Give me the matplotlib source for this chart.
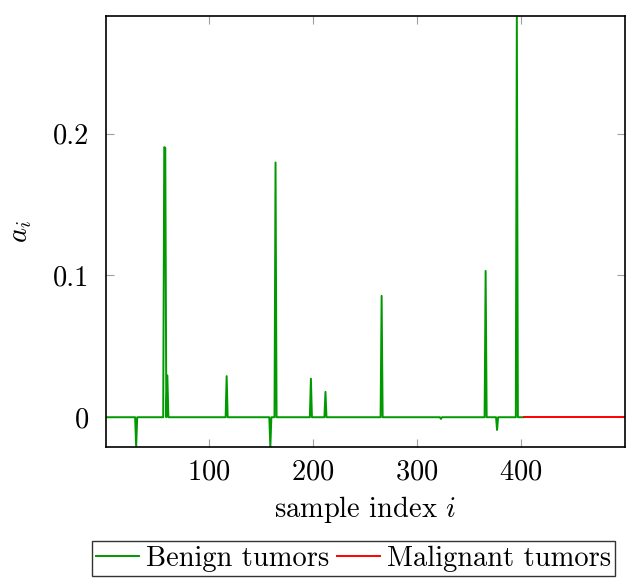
import matplotlib
matplotlib.use("Agg")
import matplotlib.pyplot as plt
import numpy as np

plt.rcParams['font.family'] = 'cmr10'
plt.rcParams['mathtext.fontset'] = 'cm'
plt.rcParams['axes.formatter.use_mathtext'] = True

# coefficient a_i per sample: zero except for a handful of support samples
n_benign = 402
n_total = 500
spike_idx = [30, 57, 58, 60, 117, 159, 164, 198, 212, 266, 323, 366, 377, 396]
spike_val = [-0.021, 0.1905, 0.19, 0.0295, 0.029, -0.021, 0.1797, 0.0272,
             0.0179, 0.0856, -0.0012, 0.1032, -0.009, 0.283]

idx = np.arange(1, n_total + 1)
a = np.zeros(n_total)
for i, v in zip(spike_idx, spike_val):
    a[i - 1] = v

green = (0.0, 0.6, 0.0)
red = (1.0, 0.0, 0.0)
fs = 20.5

fig = plt.figure(figsize=(6.32, 5.84), dpi=100)
ax = fig.add_axes([106 / 632, 1 - 447 / 584, (625 - 106) / 632, (447 - 16) / 584])

ax.plot(idx[:n_benign], a[:n_benign], color=green, lw=1.4, label='Benign tumors')
ax.plot(idx[n_benign:], a[n_benign:], color=red, lw=1.4, label='Malignant tumors')

ax.set_xlim(1, n_total)
ax.set_ylim(a.min(), a.max())
ax.set_xticks([100, 200, 300, 400])
ax.set_yticks([0, 0.1, 0.2])
ax.set_yticklabels(['0', '0.1', '0.2'])
ax.tick_params(direction='in', length=6, width=0.8, color='#a0a0a0',
               top=True, right=True, labelsize=fs, pad=9)
ax.tick_params(axis='y', pad=12)
for s in ax.spines.values():
    s.set_linewidth(1.2)

ax.set_xlabel(r'sample index $i$', fontsize=fs, labelpad=6)
ax.set_ylabel('$a_i$', fontsize=fs, labelpad=14)

leg = fig.legend(loc='upper left', bbox_to_anchor=(92 / 632, 1 - 541 / 584),
                 ncol=2, fontsize=fs, frameon=True, fancybox=False,
                 edgecolor='black', handlelength=1.5, handletextpad=0.25,
                 columnspacing=0.27, borderpad=0.15, borderaxespad=0)
leg.get_frame().set_linewidth(1.0)

fig.savefig('out.png', dpi=100)
